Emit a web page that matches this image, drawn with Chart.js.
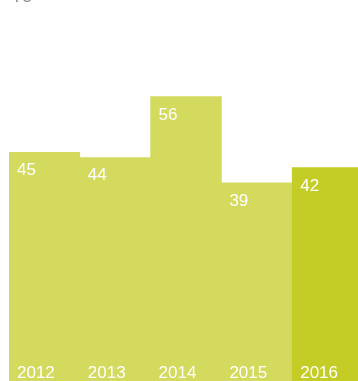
<!DOCTYPE html>
<html>
<head>
<meta charset="utf-8">
<script src="https://cdn.jsdelivr.net/npm/chart.js@4/dist/chart.umd.min.js"></script>
<style>
html,body{margin:0;padding:0;overflow:hidden;background:#fff;width:358px;height:381px;}
#wrap{position:absolute;left:0;top:0;width:363px;height:381px;}
</style>
</head>
<body>
<div id="wrap"><canvas id="c"></canvas></div>
<script>
const categories = ["2012", "2013", "2014", "2015", "2016"];
const values = [45, 44, 56, 39, 42];
const barColors = ["#d3da5e", "#d3da5e", "#d3da5e", "#d3da5e", "#c4cd25"];
const yMax = 75;

const labelPlugin = {
  id: 'labels',
  afterDatasetsDraw(chart) {
    const ctx = chart.ctx;
    const meta = chart.getDatasetMeta(0);
    ctx.save();
    ctx.fillStyle = '#ffffff';
    ctx.font = '17px "Liberation Sans", Arial, sans-serif';
    ctx.textAlign = 'left';
    ctx.textBaseline = 'alphabetic';
    meta.data.forEach((bar, i) => {
      const left = bar.x - bar.width / 2;
      ctx.fillText(String(values[i]), left + 8, bar.y + 23);
      ctx.fillText(categories[i], left + 8, chart.chartArea.bottom - 3);
    });
    ctx.fillStyle = '#8a8a8a';
    ctx.fillText(String(yMax), 13, 2);
    ctx.restore();
  }
};

new Chart(document.getElementById('c'), {
  type: 'bar',
  data: {
    labels: categories,
    datasets: [{
      data: values,
      backgroundColor: barColors,
      borderWidth: 0,
      categoryPercentage: 1.0,
      barPercentage: 1.0
    }]
  },
  options: {
    responsive: true,
    maintainAspectRatio: false,
    animation: false,
    layout: { padding: { left: 9, right: 0, top: 0, bottom: 0 } },
    plugins: { legend: { display: false }, tooltip: { enabled: false } },
    scales: {
      x: { display: false, grid: { display: false } },
      y: { display: false, min: 0, max: yMax, grid: { display: false } }
    }
  },
  plugins: [labelPlugin]
});
</script>
</body>
</html>
